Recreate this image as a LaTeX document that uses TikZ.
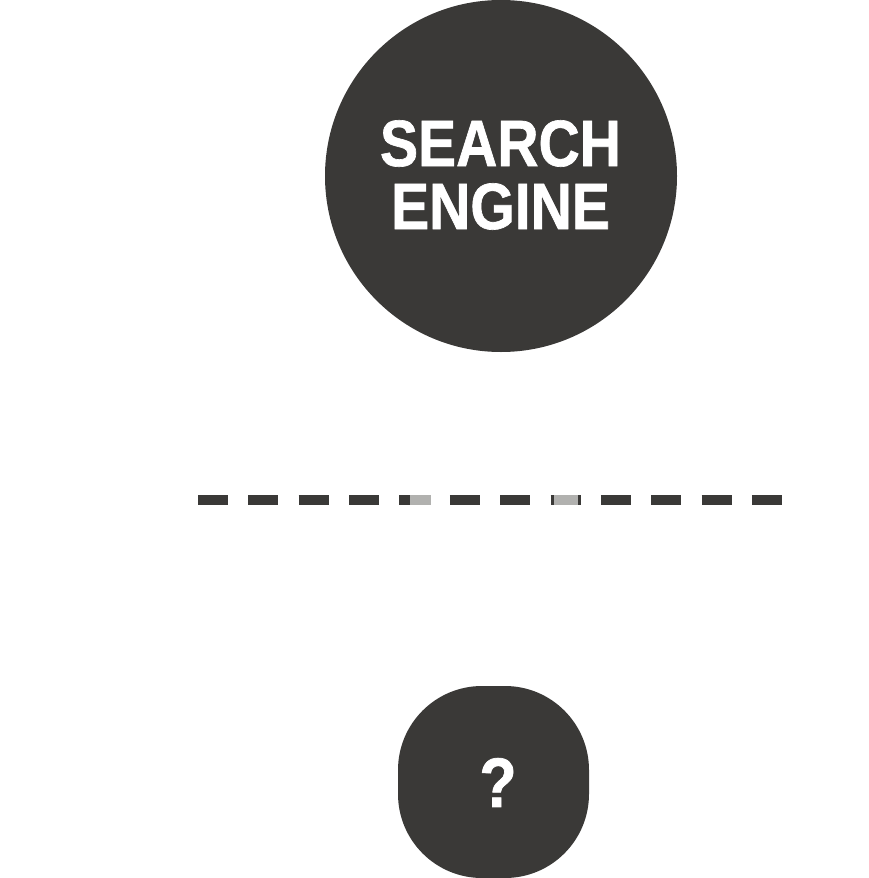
\documentclass[tikz,border=0pt]{standalone}
\usepackage{fontspec}
\usepackage{tikz}
\usetikzlibrary{positioning,shapes.geometric}
\newfontfamily\headfont[FakeStretch=0.87, BoldFeatures={FakeBold=1}]{Liberation Sans}
\definecolor{ink}{HTML}{3A3937}
\definecolor{ghost}{HTML}{B1B1AF}
\tikzset{
  bubble/.style={circle, fill=ink, text=white, align=center, inner sep=0pt, font=\headfont\bfseries\fontsize{65.6}{63}\selectfont},
  qbubble/.style={rectangle, rounded corners=84pt, fill=ink, text=white, inner sep=0pt, minimum width=191pt, minimum height=192pt},
  qmark/.style={text=white, inner sep=0pt, font=\headfont\bfseries\fontsize{70}{70}\selectfont},
  dashline/.style={draw=ink, line width=10pt, dash pattern=on 30pt off 20.36pt},
  ghostline/.style={draw=ghost, line width=10pt}
}
\begin{document}
\begin{tikzpicture}[x=1pt,y=-1pt]
\useasboundingbox (0,0) rectangle (868,878);
\node[bubble, minimum size=352pt] (engine) at (501,176) {};
\node[bubble] (enginetxt) at (500.5,175) {SEARCH\\ENGINE};
% divider
\coordinate (lineL) at (198,500);
\coordinate (lineR) at (782,500);
\draw[dashline] (lineL) -- (lineR);
\coordinate (g1a) at (410,500);
\coordinate (g1b) at (431,500);
\coordinate (g2a) at (554,500);
\coordinate (g2b) at (578,500);
\draw[ghostline] (g1a) -- (g1b);
\draw[ghostline] (g2a) -- (g2b);
% unknown result
\node[qbubble] (result) at (493.5,782) {};
\node[qmark] (resulttxt) at (498,782.5) {?};
\end{tikzpicture}
\end{document}
